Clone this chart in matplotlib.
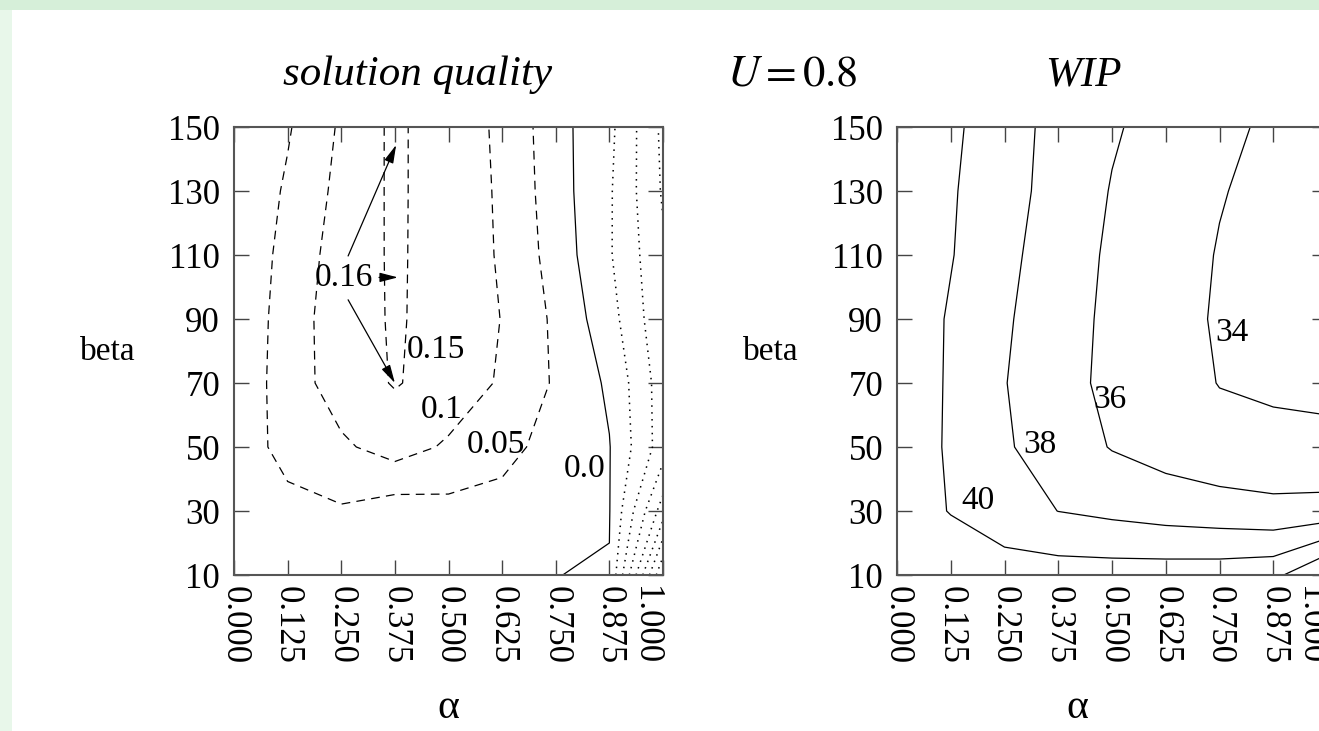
import matplotlib.pyplot as plt
from matplotlib.patches import Rectangle
from matplotlib.transforms import ScaledTranslation

plt.rcParams['font.family'] = ['Liberation Serif', 'DejaVu Serif']
plt.rcParams['mathtext.fontset'] = 'stix'

# grid of the experiment
alpha = [0.0, 0.125, 0.25, 0.375, 0.5, 0.625, 0.75, 0.875, 1.0]
beta = [10, 30, 50, 70, 90, 110, 130, 150]
alpha_labels = ['0.000', '0.125', '0.250', '0.375', '0.500', '0.625', '0.750', '0.875', '1.000']
beta_ticks = [10, 30, 50, 70, 90, 110, 130, 150]

# solution quality, one row per beta value
quality = [
    [0.010, 0.015, 0.020, 0.015, 0.015, 0.010, 0.0003, -0.002, -0.400],
    [0.015, 0.035, 0.045, 0.025, 0.0345, 0.0224, 0.015, 0.002, -0.225],
    [0.020, 0.0675, 0.0914, 0.122, 0.0931, 0.075, 0.0202, 0.002, -0.125],
    [0.0164, 0.0717, 0.127, 0.1531, 0.1316, 0.0936, 0.0441, -0.0079, -0.125],
    [0.0122, 0.0712, 0.130, 0.1545, 0.1344, 0.0986, 0.0407, -0.030, -0.138],
    [0.009, 0.0659, 0.1227, 0.1568, 0.1285, 0.0949, 0.0296, -0.045, -0.142],
    [0.005, 0.057, 0.114, 0.159, 0.1227, 0.0946, 0.0222, -0.0439, -0.1555],
    [0.010, 0.045, 0.107, 0.1607, 0.1176, 0.0942, 0.0175, -0.037, -0.161],
]

# work in process, one row per beta value
wip = [
    [41.8, 41.5, 40.85, 40.87, 40.88, 40.95, 41.04, 41.4, 44.47],
    [41.2, 39.9, 38.9, 37.98, 37.55, 37.14, 36.87, 36.55, 36.63],
    [41.3, 39.74, 38.23, 37.0, 35.9, 35.2, 34.6, 34.5, 34.5],
    [41.4, 39.76, 38.07, 36.66, 35.56, 34.73, 33.95, 33.7, 33.5],
    [41.4, 39.8, 38.25, 36.8, 35.6, 34.7, 33.8, 33.2, 32.7],
    [41.7, 40.1, 38.5, 37.0, 35.7, 34.8, 33.9, 33.3, 32.8],
    [41.8, 40.2, 38.7, 37.3, 35.9, 35.0, 34.1, 33.5, 33.0],
    [41.95, 40.4, 38.8, 37.4, 36.2, 35.3, 34.4, 33.7, 33.1],
]

quality_levels = [-0.35, -0.3, -0.25, -0.2, -0.15, -0.1, -0.05, 0.0, 0.05, 0.1, 0.15]
wip_levels = [34, 36, 38, 40, 42]

W, H = 1319, 731
FS = 25

fig = plt.figure(figsize=(W / 100, H / 100), dpi=100)
fig.patch.set_facecolor('#d6efd9')
fig.add_artist(Rectangle((0, 0), 12 / W, 1 - 10 / H, transform=fig.transFigure,
                         facecolor='#e8f7ea', edgecolor='none', zorder=-2))
fig.add_artist(Rectangle((12 / W, 0), 1, 1 - 10 / H, transform=fig.transFigure,
                         facecolor='white', edgecolor='none', zorder=-1))


def px_box(x0, x1, y0, y1):
    return [x0 / W, 1 - y1 / H, (x1 - x0) / W, (y1 - y0) / H]


def style_axes(ax):
    ax.set_xlim(0, 1)
    ax.set_ylim(10, 150)
    ax.set_xticks(alpha)
    ax.set_xticklabels(alpha_labels, rotation=270)
    ax.set_yticks(beta_ticks)
    ax.tick_params(direction='in', length=11, width=1, colors='#444444',
                   labelcolor='black', labelsize=FS, top=True, right=True)
    ax.tick_params(axis='x', pad=8)
    ax.tick_params(axis='y', pad=10)
    for s in ax.spines.values():
        s.set_color('#555555')
        s.set_linewidth(1.5)
    # the last alpha label sits a little inside the frame
    last = ax.get_xticklabels()[-1]
    last.set_transform(last.get_transform() + ScaledTranslation(-0.18, 0, fig.dpi_scale_trans))


ax1 = fig.add_axes(px_box(234, 663, 127, 575))
ax2 = fig.add_axes(px_box(897, 1327, 127, 575))

dotted = (0, (1, 3.5))
dashed = (0, (7, 5))
q_styles = [dotted if lv < 0 else ('solid' if lv == 0 else dashed) for lv in quality_levels]
q_widths = [1.1 if lv < 0 else 0.9 for lv in quality_levels]
ax1.contour(alpha, beta, quality, levels=quality_levels, colors='black',
            linewidths=q_widths, linestyles=q_styles)
ax2.contour(alpha, beta, wip, levels=wip_levels, colors='black',
            linewidths=0.9, linestyles='solid')

for ax in (ax1, ax2):
    style_axes(ax)

# contour labels
q_label_pos = {0.15: (0.471, 80.3), 0.1: (0.483, 61.6), 0.05: (0.610, 50.6), 0.0: (0.818, 43.1)}
for lv, (x, y) in q_label_pos.items():
    ax1.text(x, y, f'{lv}', fontsize=FS - 1, ha='center', va='center')

w_label_pos = {34: (0.779, 85.8), 36: (0.495, 64.8), 38: (0.333, 50.6), 40: (0.188, 33.1)}
for lv, (x, y) in w_label_pos.items():
    ax2.text(x, y, f'{lv}', fontsize=FS - 1, ha='center', va='center')

# the 0.16 peak sits inside the narrow 0.15 region
ax1.text(0.256, 102.8, '0.16', fontsize=FS - 1, ha='center', va='center')
arrow_kw = dict(arrowstyle='-|>,head_length=0.85,head_width=0.22', color='black',
                lw=0.9, mutation_scale=13, shrinkA=0, shrinkB=0)
for tail, head in [((0.266, 109.7), (0.378, 144.4)),
                   ((0.266, 96.0), (0.375, 70.0)),
                   ((0.338, 103.0), (0.382, 103.0))]:
    ax1.annotate('', xy=head, xytext=tail, arrowprops=arrow_kw)

# titles and axis names
fig.text(418 / W, 1 - 75 / H, 'solution quality', fontsize=31, style='italic',
         ha='center', va='center')
fig.text(792 / W, 1 - 75 / H, r'$U = 0.8$', fontsize=32, ha='center', va='center')
fig.text(1083 / W, 1 - 75 / H, 'WIP', fontsize=31, style='italic',
         ha='center', va='center')
fig.text(108 / W, 1 - 352 / H, 'beta', fontsize=24, ha='center', va='center')
fig.text(771 / W, 1 - 352 / H, 'beta', fontsize=24, ha='center', va='center')
fig.text(448 / W, 1 - 708 / H, 'α', fontsize=30, ha='center', va='center')
fig.text(1077 / W, 1 - 708 / H, 'α', fontsize=30, ha='center', va='center')

fig.savefig('out.png', dpi=100, facecolor=fig.get_facecolor())
